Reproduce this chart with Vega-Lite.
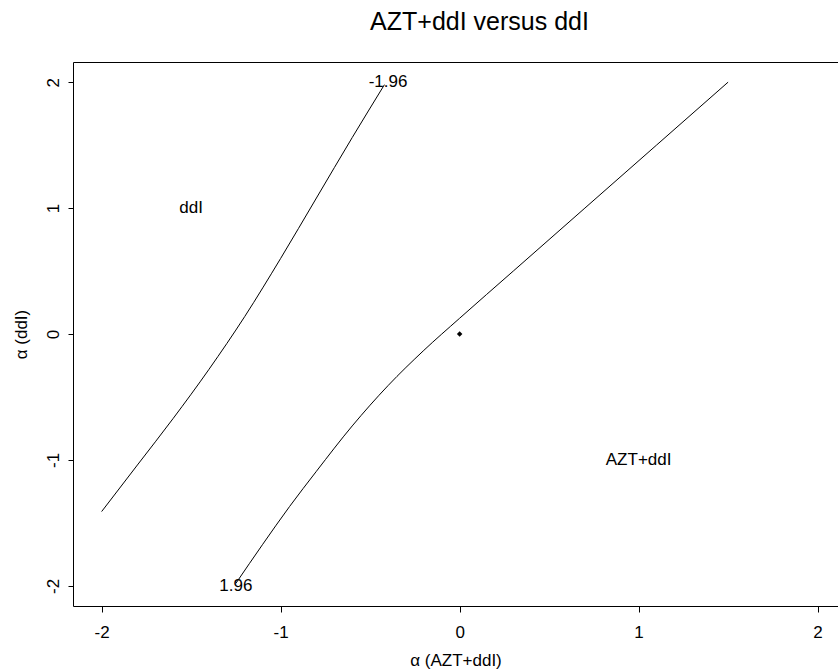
{
  "$schema": "https://vega.github.io/schema/vega-lite/v6.json",
  "width": 765,
  "height": 544,
  "autosize": {"type": "none"},
  "padding": {"left": 73, "top": 62, "right": 0, "bottom": 65},
  "background": "white",
  "title": {
    "text": "AZT+ddI versus ddI",
    "fontSize": 25,
    "font": "Liberation Sans",
    "fontWeight": "normal",
    "color": "black",
    "anchor": "middle",
    "frame": "group",
    "dx": 24,
    "dy": 26,
    "baseline": "alphabetic",
    "offset": 33
  },
  "config": {
    "view": {"stroke": null},
    "font": "Liberation Sans",
    "axis": {
      "grid": false,
      "domainColor": "black",
      "tickColor": "black",
      "labelColor": "black",
      "titleColor": "black",
      "labelFont": "Liberation Sans",
      "titleFont": "Liberation Sans",
      "labelFontSize": 17,
      "titleFontSize": 17,
      "titleFontWeight": "normal",
      "tickSize": 6,
      "domainWidth": 1,
      "tickWidth": 1,
      "labelFlush": false
    }
  },
  "datasets": {
    "curves": [
      {"curve": "a", "o": 1, "x": -2.0, "y": -1.41},
      {"curve": "a", "o": 2, "x": -1.8, "y": -1.04},
      {"curve": "a", "o": 3, "x": -1.6, "y": -0.67},
      {"curve": "a", "o": 4, "x": -1.4, "y": -0.28},
      {"curve": "a", "o": 5, "x": -1.2, "y": 0.14},
      {"curve": "a", "o": 6, "x": -1.0, "y": 0.6},
      {"curve": "a", "o": 7, "x": -0.8, "y": 1.08},
      {"curve": "a", "o": 8, "x": -0.6, "y": 1.56},
      {"curve": "a", "o": 9, "x": -0.42, "y": 1.98},
      {"curve": "b", "o": 1, "x": -1.25, "y": -1.98},
      {"curve": "b", "o": 2, "x": -1.1, "y": -1.67},
      {"curve": "b", "o": 3, "x": -0.95, "y": -1.37},
      {"curve": "b", "o": 4, "x": -0.8, "y": -1.09},
      {"curve": "b", "o": 5, "x": -0.6, "y": -0.73},
      {"curve": "b", "o": 6, "x": -0.4, "y": -0.41},
      {"curve": "b", "o": 7, "x": -0.2, "y": -0.13},
      {"curve": "b", "o": 8, "x": 0.0, "y": 0.125},
      {"curve": "b", "o": 9, "x": 0.3, "y": 0.5},
      {"curve": "b", "o": 10, "x": 0.7, "y": 1.0},
      {"curve": "b", "o": 11, "x": 1.1, "y": 1.5},
      {"curve": "b", "o": 12, "x": 1.5, "y": 2.0}
    ],
    "labels": [
      {"x": -0.4, "y": 2.0, "label": "-1.96"},
      {"x": -1.25, "y": -2.0, "label": "1.96"},
      {"x": -1.5, "y": 1.0, "label": "ddI"},
      {"x": 1.0, "y": -1.0, "label": "AZT+ddI"}
    ],
    "point": [{"x": 0, "y": 0}]
  },
  "resolve": {"axis": {"x": "independent"}},
  "layer": [
    {
      "data": {"name": "curves"},
      "mark": {"type": "line", "color": "black", "strokeWidth": 1, "interpolate": "monotone"},
      "encoding": {
        "x": {
          "field": "x", "type": "quantitative",
          "scale": {"domain": [-2.16, 2.114], "nice": false, "zero": false},
          "axis": {
            "orient": "bottom",
            "values": [-2, -1, 0, 1, 2],
            "labelExpr": "toString(datum.value)",
            "labelBaseline": "alphabetic",
            "labelPadding": 25,
            "title": "α (AZT+ddI)",
            "titleY": 59,
            "titleBaseline": "alphabetic"
          }
        },
        "y": {
          "field": "y", "type": "quantitative",
          "scale": {"domain": [-2.16, 2.16], "nice": false, "zero": false},
          "axis": {
            "values": [-2, -1, 0, 1, 2],
            "labelExpr": "toString(datum.value)",
            "tickSize": 5,
            "labelAngle": -90,
            "labelAlign": "center",
            "labelBaseline": "alphabetic",
            "labelPadding": 10,
            "title": "α (ddI)",
            "titleAngle": -90,
            "titleX": -47,
            "titleY": 272,
            "titleAlign": "center",
            "titleBaseline": "alphabetic"
          }
        },
        "detail": {"field": "curve"},
        "order": {"field": "o"}
      }
    },
    {
      "data": {"name": "point"},
      "mark": {"type": "point", "shape": "diamond", "filled": true, "size": 30, "color": "black", "opacity": 1},
      "encoding": {
        "x": {
          "field": "x", "type": "quantitative",
          "axis": {"orient": "top", "labels": false, "ticks": false, "title": null, "domain": true}
        },
        "y": {"field": "y", "type": "quantitative"}
      }
    },
    {
      "data": {"name": "labels"},
      "mark": {"type": "text", "fontSize": 17, "font": "Liberation Sans", "color": "black", "baseline": "middle", "align": "center"},
      "encoding": {
        "x": {"field": "x", "type": "quantitative", "axis": null},
        "y": {"field": "y", "type": "quantitative"},
        "text": {"field": "label"}
      }
    }
  ]
}
